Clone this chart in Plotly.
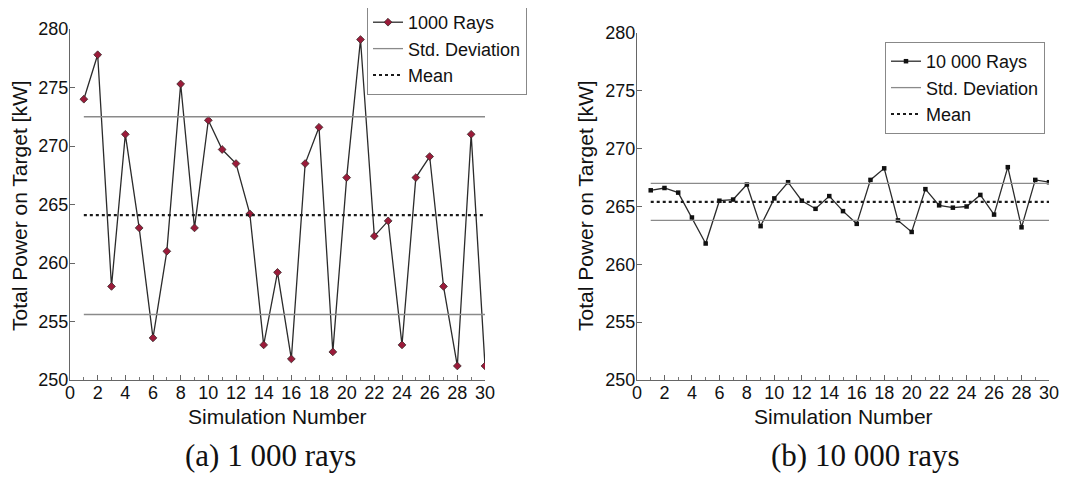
import plotly.graph_objects as go

sim = list(range(1, 31))

power_1000 = [274.0, 277.8, 258.0, 271.0, 263.0, 253.6, 261.0, 275.3, 263.0, 272.2,
              269.7, 268.5, 264.2, 253.0, 259.2, 251.8, 268.5, 271.6, 252.4, 267.3,
              279.1, 262.3, 263.6, 253.0, 267.3, 269.1, 258.0, 251.2, 271.0, 251.2]
mean_1000 = 264.1
std_band_1000 = [255.6, 272.5]

power_10000 = [266.4, 266.6, 266.2, 264.05, 261.8, 265.5, 265.6, 266.9, 263.3, 265.7,
               267.1, 265.5, 264.8, 265.9, 264.6, 263.5, 267.3, 268.3, 263.8, 262.8,
               266.5, 265.1, 264.9, 265.0, 266.0, 264.3, 268.4, 263.2, 267.3, 267.1]
mean_10000 = 265.4
std_band_10000 = [263.8, 267.0]

x_ticks = list(range(0, 31, 2))
y_ticks = [250, 255, 260, 265, 270, 275, 280]

x_title = "Simulation Number"
y_title = "Total Power on Target [kW]"
captions = ["(a) 1 000 rays", "(b) 10 000 rays"]

FONT = "Liberation Sans, Arial, sans-serif"
SERIF = "Liberation Serif, serif"
W, H = 1071, 479
OFF = 8  # page body margin


def fx(px):
    return (px - OFF) / W


def fy(py):
    return 1 - (py - OFF) / H


fig = go.Figure()

def add_panel(xa, ya, legend, power, mean, band, name, marker):
    fig.add_trace(go.Scatter(
        x=sim, y=power, mode="lines+markers", name=name,
        xaxis=xa, yaxis=ya, legend=legend,
        line=dict(color="#2b2b2b", width=1.3),
        marker=marker))
    fig.add_trace(go.Scatter(
        x=[sim[0], sim[-1], None, sim[0], sim[-1]],
        y=[band[1], band[1], None, band[0], band[0]],
        mode="lines", name="Std. Deviation", xaxis=xa, yaxis=ya, legend=legend,
        line=dict(color="#8a8a8a", width=1.3)))
    fig.add_trace(go.Scatter(
        x=[sim[0], sim[-1]], y=[mean, mean],
        mode="lines", name="Mean", xaxis=xa, yaxis=ya, legend=legend,
        line=dict(color="#1a1a1a", width=2.2, dash="dot")))

add_panel("x", "y", "legend", power_1000, mean_1000, std_band_1000, "1000 Rays",
          dict(symbol="diamond", size=6, color="#9b1b3a",
               line=dict(color="#3a2a2a", width=0.8)))
add_panel("x2", "y2", "legend2", power_10000, mean_10000, std_band_10000, "10 000 Rays",
          dict(symbol="square", size=4.5, color="#111111",
               line=dict(color="#111111", width=0)))

def xaxis(domain, anchor):
    return dict(domain=domain, anchor=anchor, range=[0, 30], tickvals=x_ticks,
                automargin=False, ticklabelstandoff=-4,
                ticks="inside", ticklen=5, tickcolor="#666", tickwidth=1,
                minor=dict(dtick=1, ticks="inside", ticklen=3, tickcolor="#777"),
                showline=True, linecolor="#666", linewidth=1, mirror=False,
                showgrid=False, zeroline=False,
                tickfont=dict(family=FONT, size=18, color="#111"))

def yaxis(domain, anchor):
    return dict(domain=domain, anchor=anchor, range=[250, 280], tickvals=y_ticks,
                automargin=False, ticklabelstandoff=-3,
                ticks="inside", ticklen=5, tickcolor="#666", tickwidth=1,
                showline=True, linecolor="#666", linewidth=1, mirror=False,
                showgrid=False, zeroline=False,
                tickfont=dict(family=FONT, size=18, color="#111"))

legend_style = dict(font=dict(family=FONT, size=18, color="#111"),
                    bgcolor="rgba(255,255,255,0.9)", bordercolor="#888", borderwidth=1,
                    xanchor="left", yanchor="top", tracegroupgap=0, itemwidth=30)

def ann(text, x, y, size, family=FONT, angle=0):
    return dict(text=text, x=fx(x), y=fy(y), xref="paper", yref="paper",
                xanchor="center", yanchor="middle", textangle=angle,
                showarrow=False, font=dict(family=family, size=size, color="#111"))

fig.update_layout(
    width=W, height=H,
    margin=dict(l=0, r=0, t=0, b=0, autoexpand=False),
    paper_bgcolor="white", plot_bgcolor="white",
    xaxis=xaxis([fx(70), fx(485)], "y"),
    yaxis=yaxis([fy(380), fy(29)], "x"),
    xaxis2=xaxis([fx(637), fx(1049)], "y2"),
    yaxis2=yaxis([fy(380), fy(33)], "x2"),
    legend=dict(x=fx(367), y=fy(3), **legend_style),
    legend2=dict(x=fx(885), y=fy(42), **legend_style),
    annotations=[
        ann(x_title, 277, 416, 21),
        ann(x_title, 843, 416, 21),
        ann(y_title, 19, 206, 21, angle=-90),
        ann(y_title, 585, 206, 21, angle=-90),
        ann(captions[0], 270, 455, 31, SERIF),
        ann(captions[1], 865, 455, 31, SERIF),
    ],
)

fig.write_html("out.html")
